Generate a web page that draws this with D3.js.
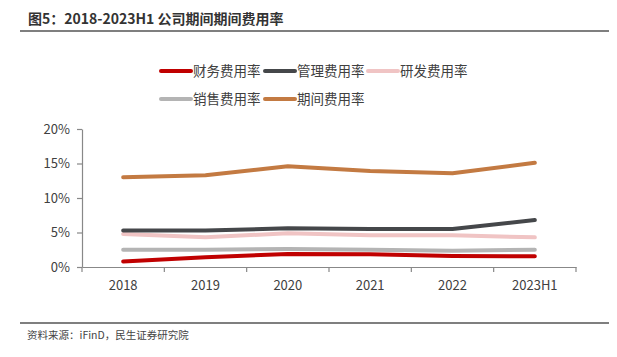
<!DOCTYPE html>
<html><head><meta charset="utf-8">
<script src="https://cdn.jsdelivr.net/npm/d3@7/dist/d3.min.js"></script>
<style>body{margin:0;background:#fff;}svg{display:block;}</style>
</head><body>
<script>
const categories = ["2018","2019","2020","2021","2022","2023H1"];
const seriesNames = ["财务费用率","管理费用率","研发费用率","销售费用率","期间费用率"];
const finance = [0.8,1.4,1.9,1.85,1.6,1.55];
const admin = [5.3,5.3,5.6,5.5,5.5,6.8];
const rnd = [4.8,4.3,4.9,4.6,4.6,4.3];
const sales = [2.5,2.5,2.6,2.5,2.35,2.5];
const period = [13.0,13.3,14.6,13.9,13.6,15.1];
const yTicks = [0,5,10,15,20];
const colors = ["#C00000","#45474A","#F0C4C4","#B4B4B4","#C37A42"];
const allSeries = [finance, admin, rnd, sales, period];

const W=617,H=357;
const svg=d3.select("body").append("svg").attr("width",W).attr("height",H);
const font="'Noto Sans CJK SC','Noto Sans',sans-serif";

svg.append("text").attr("x",28).attr("y",24).attr("font-family",font).attr("font-size",14).attr("font-weight","bold").attr("fill","#333").text("图5：2018-2023H1 公司期间期间费用率");
svg.append("line").attr("x1",20).attr("x2",609).attr("y1",31).attr("y2",31).attr("stroke","#555").attr("stroke-width",1.5);
svg.append("line").attr("x1",20).attr("x2",609).attr("y1",323).attr("y2",323).attr("stroke","#555").attr("stroke-width",1.5);
svg.append("text").attr("x",27).attr("y",339).attr("font-family",font).attr("font-size",10.5).attr("fill","#444").text("资料来源：iFinD，民生证券研究院");

const x=d3.scaleBand().domain(categories).range([82,576]);
const y=d3.scaleLinear().domain([0,20]).range([267,129]);

const gx=svg.append("g").attr("transform","translate(0,267)")
  .call(d3.axisBottom(x).tickSize(5).tickSizeOuter(0));
gx.select(".domain").attr("stroke","#888").attr("stroke-width",1.2);
gx.selectAll(".tick").remove();
const edges=categories.map((c)=>x(c)).concat([x(categories[categories.length-1])+x.bandwidth()]);
gx.selectAll("line.edge").data(edges).enter().append("line").attr("class","edge")
  .attr("x1",d=>d).attr("x2",d=>d).attr("y1",0).attr("y2",5).attr("stroke","#888").attr("stroke-width",1.2);
gx.selectAll("text.lab").data(categories).enter().append("text").attr("class","lab")
  .attr("x",d=>x(d)+x.bandwidth()/2).attr("y",23).attr("text-anchor","middle")
  .attr("font-family",font).attr("font-size",13).attr("fill","#404040").text(d=>d);

const gy=svg.append("g").attr("transform","translate(82,0)")
  .call(d3.axisLeft(y).tickValues(yTicks).tickSize(5).tickFormat(d=>d+"%").tickSizeOuter(0));
gy.select(".domain").attr("stroke","#888").attr("stroke-width",1.2);
gy.selectAll(".tick line").attr("stroke","#888").attr("stroke-width",1.2);
gy.selectAll(".tick text").attr("font-family",font).attr("font-size",13).attr("fill","#404040").attr("x",-12);

const line=d3.line().x((d,i)=>x(categories[i])+x.bandwidth()/2).y(d=>y(d));
[3,2,1,0,4].forEach(k=>{
  svg.append("path").datum(allSeries[k]).attr("d",line).attr("fill","none")
    .attr("stroke",colors[k]).attr("stroke-width",4).attr("stroke-linecap","round").attr("stroke-linejoin","round");
});

const legendPos=[[161,71],[265,71],[368,71],[161,99],[265,99]];
seriesNames.forEach((n,k)=>{
  const [lx,ly]=legendPos[k];
  svg.append("line").attr("x1",lx).attr("x2",lx+30).attr("y1",ly).attr("y2",ly)
    .attr("stroke",colors[k]).attr("stroke-width",4).attr("stroke-linecap","round");
  svg.append("text").attr("x",lx+32).attr("y",ly+5).attr("font-family",font).attr("font-size",13.5).attr("fill","#404040").text(n);
});
</script>
</body></html>
